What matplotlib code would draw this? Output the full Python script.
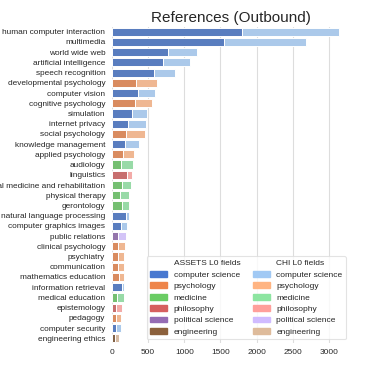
import matplotlib
matplotlib.use('Agg')
import matplotlib.pyplot as plt
from matplotlib.patches import Rectangle
import seaborn as sns
import numpy as np

sns.set_theme(style='whitegrid')
plt.rcParams['font.family'] = ['Liberation Sans', 'DejaVu Sans']

# topics, ordered by total outbound references
topics = ['human computer interaction', 'multimedia', 'world wide web',
          'artificial intelligence', 'speech recognition', 'developmental psychology',
          'computer vision', 'cognitive psychology', 'simulation', 'internet privacy',
          'social psychology', 'knowledge management', 'applied psychology', 'audiology',
          'linguistics', 'physical medicine and rehabilitation', 'physical therapy',
          'gerontology', 'natural language processing', 'computer graphics images',
          'public relations', 'clinical psychology', 'psychiatry', 'communication',
          'mathematics education', 'information retrieval', 'medical education',
          'epistemology', 'pedagogy', 'computer security', 'engineering ethics']

# L0 field of each topic
topicFields = ['computer science', 'computer science', 'computer science',
               'computer science', 'computer science', 'psychology',
               'computer science', 'psychology', 'computer science', 'computer science',
               'psychology', 'computer science', 'psychology', 'medicine',
               'philosophy', 'medicine', 'medicine',
               'medicine', 'computer science', 'computer science',
               'political science', 'psychology', 'psychology', 'psychology',
               'psychology', 'computer science', 'medicine',
               'philosophy', 'psychology', 'computer science', 'engineering']

assetsCounts = [1796, 1556, 771, 702, 582, 332, 365, 319, 277, 226,
                194, 185, 157, 125, 208, 138, 115, 138, 189, 125,
                79, 83, 83, 83, 97, 134, 74, 51, 51, 51, 42]
chiCounts = [1340, 1131, 406, 374, 291, 296, 226, 240, 203, 240,
             270, 184, 148, 161, 64, 125, 120, 93, 42, 87,
             115, 102, 88, 88, 65, 28, 88, 87, 78, 69, 59]

fields = ['computer science', 'psychology', 'medicine', 'philosophy',
          'political science', 'engineering']

assetsColors = dict(zip(fields, ['#4878d0', '#ee854a', '#6acc64', '#d65f5f', '#956cb4', '#8c613c']))
chiColors = dict(zip(fields, ['#a1c9f4', '#ffb482', '#8de5a1', '#ff9f9b', '#d0bbff', '#debb9b']))

fig = plt.figure(figsize=(3.67, 3.67), dpi=100)
axs = fig.add_axes([0.305, 0.0643, 0.649, 0.8632])

yPos = np.arange(len(topics))
# seaborn barplot desaturates bar colours (saturation=.75), legend keeps full colours
aColors = [sns.desaturate(assetsColors[f], 0.75) for f in topicFields]
cColors = [sns.desaturate(chiColors[f], 0.75) for f in topicFields]
axs.barh(yPos, assetsCounts, height=0.8, color=aColors, edgecolor='white', linewidth=0.7)
axs.barh(yPos, chiCounts, left=assetsCounts, height=0.8, color=cColors,
         edgecolor='white', linewidth=0.7)

axs.set_yticks(yPos)
axs.set_yticklabels(topics, fontsize=5.95)
axs.set_ylim(len(topics) - 0.5, -0.5)
axs.set_xlim(0, max(np.array(assetsCounts) + np.array(chiCounts)) * 1.05)
axs.set_xticks([0, 500, 1000, 1500, 2000, 2500, 3000])
axs.tick_params(axis='x', labelsize=5.95, length=0, pad=4)
axs.tick_params(axis='y', length=0, pad=4.8)
axs.yaxis.grid(False)
axs.xaxis.grid(True, color='#dddddd', linewidth=0.8)
for s in axs.spines.values():
    s.set_visible(False)

axs.set_title('References (Outbound)', fontsize=11, pad=3)

# two-column legend with a header entry per column
blank = Rectangle((0, 0), 1, 1, visible=False)
handles = [blank] + [Rectangle((0, 0), 1, 1, color=assetsColors[f]) for f in fields]
handles += [blank] + [Rectangle((0, 0), 1, 1, color=chiColors[f]) for f in fields]
labels = ['ASSETS L0 fields'] + fields + ['CHI L0 fields'] + fields
leg = axs.legend(handles, labels, ncol=2, loc='lower right', fontsize=6.05,
                 labelspacing=0.42, columnspacing=1.5, handletextpad=0.8,
                 borderaxespad=0.5, frameon=True)
leg.get_frame().set_edgecolor('#dddddd')
leg.get_frame().set_linewidth(0.8)

plt.savefig('out.png', dpi=100)
plt.close('all')
